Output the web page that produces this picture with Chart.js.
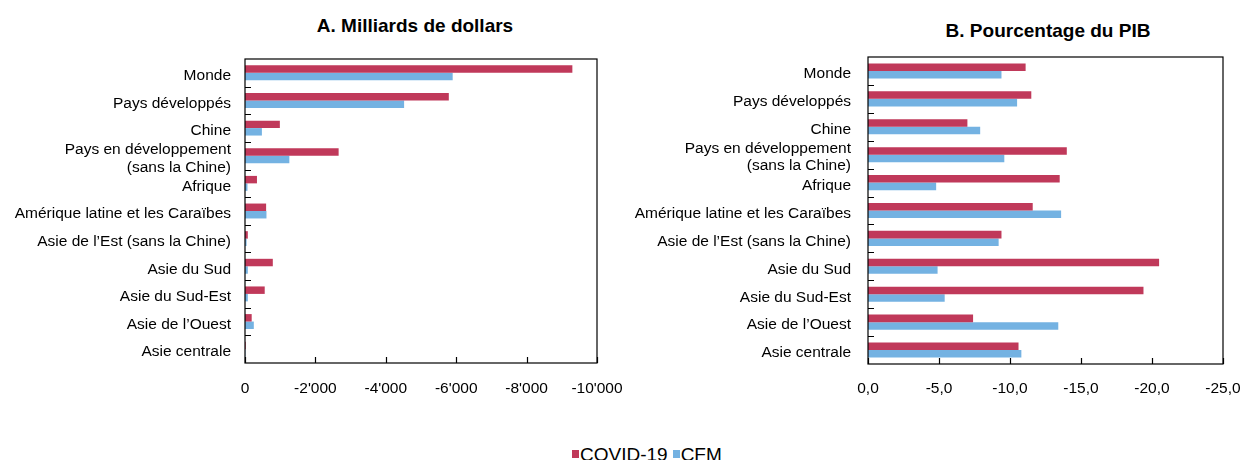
<!DOCTYPE html>
<html lang="fr">
<head>
<meta charset="utf-8">
<title>COVID-19 et CFM</title>
<script src="https://cdn.jsdelivr.net/npm/chart.js@4"></script>
<style>
  body { margin: 0; background: #fff; font-family: "Liberation Sans", Arial, sans-serif; }
  #wrap { position: relative; width: 1240px; height: 460px; overflow: hidden; }
  canvas { position: absolute; top: 0; }
  .title { position: absolute; width: 400px; text-align: center; font-weight: bold; font-size: 19px; line-height: 19px; }
  #legend { position: absolute; left: 572px; top: 445px; font-size: 19px; line-height: 19px; display: flex; align-items: flex-start; white-space: nowrap; }
  #legend i { display: inline-block; width: 7px; height: 8px; margin: 5px 1px 0 0; }
</style>
</head>
<body>
<div id="wrap">
  <div class="title" style="left:215px; top:16px;">A. Milliards de dollars</div>
  <div class="title" style="left:848px; top:21px;">B. Pourcentage du PIB</div>
  <canvas id="chartA" width="640" height="410" style="left:0"></canvas>
  <canvas id="chartB" width="620" height="410" style="left:620px"></canvas>
  <div id="legend">
    <i style="background:#C0395A"></i><span>COVID-19</span>
    <i style="background:#74B2E2; margin-left:5px"></i><span>CFM</span>
  </div>
</div>
<script>
const categories = [
  "Monde",
  "Pays développés",
  "Chine",
  ["Pays en développement", "(sans la Chine)"],
  "Afrique",
  "Amérique latine et les Caraïbes",
  "Asie de l’Est (sans la Chine)",
  "Asie du Sud",
  "Asie du Sud-Est",
  "Asie de l’Ouest",
  "Asie centrale"
];

// A. Milliards de dollars
const covidUsd = [-9300, -5790, -990, -2660, -340, -600, -80, -790, -560, -190, -20];
const cfmUsd = [-5900, -4520, -480, -1260, -70, -610, -45, -80, -80, -250, -10];
const usdTicks = [0, -2000, -4000, -6000, -8000, -10000];

// B. Pourcentage du PIB
const covidPib = [-11.1, -11.5, -7.0, -14.0, -13.5, -11.6, -9.4, -20.5, -19.4, -7.4, -10.6];
const cfmPib = [-9.4, -10.5, -7.9, -9.6, -4.8, -13.6, -9.2, -4.9, -5.4, -13.4, -10.8];
const pibTicks = [0, -5, -10, -15, -20, -25];

const RED = "#C0395A";
const BLUE = "#74B2E2";

Chart.defaults.font.family = "'Liberation Sans', Arial, sans-serif";
Chart.defaults.font.size = 15.5;
Chart.defaults.color = "#000";

// box round the plot and the small ticks drawn inside it
const frame = {
  id: "frame",
  afterDatasetsDraw(chart) {
    const { ctx, chartArea: a, scales } = chart;
    ctx.save();
    ctx.strokeStyle = "#000";
    ctx.lineWidth = 1.2;
    ctx.strokeRect(a.left, a.top, a.right - a.left, a.bottom - a.top);
    ctx.beginPath();
    const y = scales.y;
    for (let i = 1; i < y.ticks.length; i++) {
      const p = Math.round((y.getPixelForTick(i - 1) + y.getPixelForTick(i)) / 2) + 0.5;
      ctx.moveTo(a.left, p);
      ctx.lineTo(a.left + 6, p);
    }
    scales.x.ticks.forEach((t, i) => {
      const p = Math.round(scales.x.getPixelForTick(i)) + 0.5;
      ctx.moveTo(p, a.bottom);
      ctx.lineTo(p, a.bottom - 6);
    });
    ctx.stroke();
    ctx.restore();
  }
};

function fmtUsd(v) {
  if (v === 0) return "0";
  const s = String(Math.abs(v)).replace(/\B(?=(\d{3})+(?!\d))/g, "'");
  return "-" + s;
}

function fmtPib(v) {
  const s = Math.abs(v).toFixed(1).replace(".", ",");
  return v < 0 ? "-" + s : s;
}

function makeChart(id, covid, cfm, tickVals, fmt, opts) {
  return new Chart(document.getElementById(id), {
    type: "bar",
    data: {
      labels: categories,
      datasets: [
        { label: "COVID-19", data: covid, backgroundColor: RED },
        { label: "CFM", data: cfm, backgroundColor: BLUE }
      ]
    },
    options: {
      indexAxis: "y",
      responsive: false,
      animation: false,
      layout: { padding: opts.padding },
      categoryPercentage: 0.54,
      barPercentage: 1,
      plugins: { legend: { display: false }, tooltip: { enabled: false } },
      scales: {
        x: {
          min: tickVals[tickVals.length - 1],
          max: 0,
          reverse: true,
          grid: { display: false },
          border: { display: false },
          ticks: { padding: opts.xPad, maxRotation: 0, autoSkip: false, callback: v => fmt(v) },
          afterBuildTicks: s => { s.ticks = tickVals.map(v => ({ value: v })); },
          afterFit: s => { s.height = 40; s.paddingLeft = 0; s.paddingRight = 0; }
        },
        y: {
          grid: { display: false },
          border: { display: false },
          ticks: { padding: opts.yPad, labelOffset: 3, autoSkip: false, font: { lineHeight: 1.1 } },
          afterFit: s => { s.width = opts.yWidth; }
        }
      }
    },
    plugins: [frame]
  });
}

makeChart("chartA", covidUsd, cfmUsd, usdTicks, fmtUsd, {
  padding: { top: 59, left: 0, right: 43, bottom: 7 },
  yWidth: 245, yPad: 6, xPad: 8
});

makeChart("chartB", covidPib, cfmPib, pibTicks, fmtPib, {
  padding: { top: 57, left: 0, right: 17, bottom: 6 },
  yWidth: 248, yPad: 9, xPad: 7
});
</script>
</body>
</html>
